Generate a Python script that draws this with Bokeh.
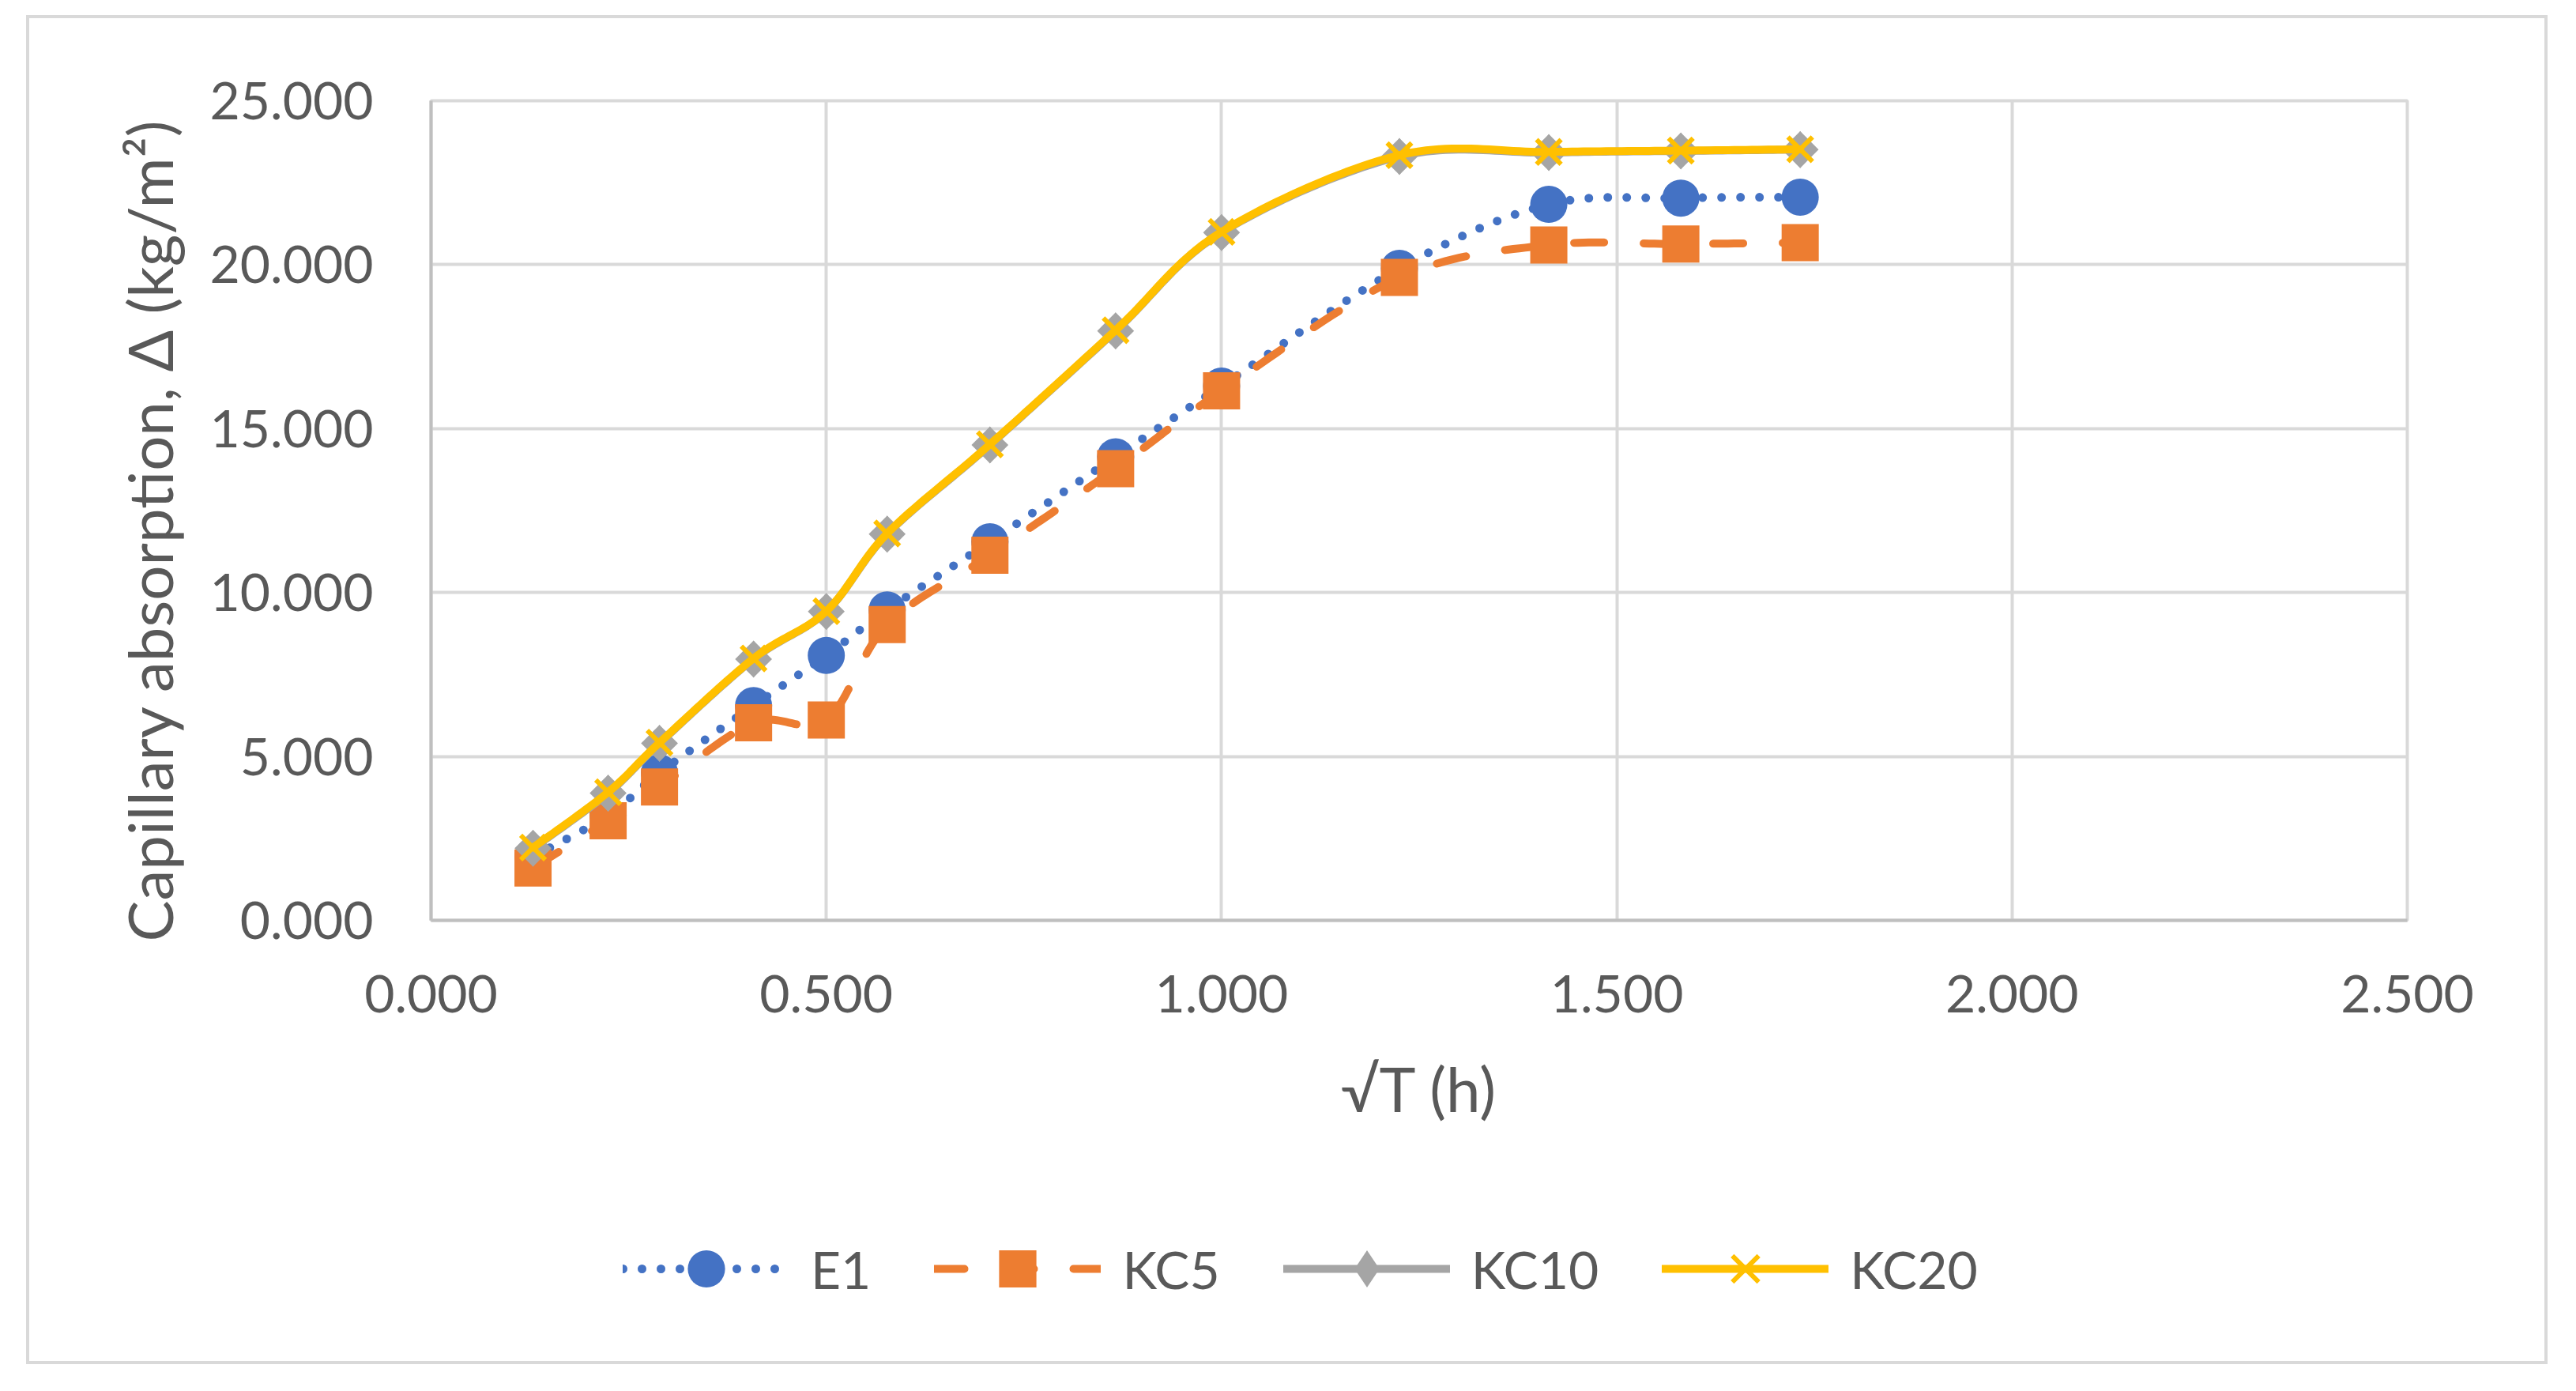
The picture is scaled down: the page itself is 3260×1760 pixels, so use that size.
import numpy as np
from bokeh.plotting import figure
from bokeh.layouts import column
from bokeh.models import (Range1d, FixedTicker, NumeralTickFormatter, Legend, LegendItem,
                          ColumnDataSource, Title)
from bokeh.embed import file_html
from bokeh.resources import INLINE

# ---------------- data ----------------
sqrt_t = [0.129, 0.224, 0.289, 0.408, 0.500, 0.577, 0.707, 0.866, 1.000, 1.225, 1.414, 1.581, 1.732]
e1 = [1.95, 3.20, 4.50, 6.55, 8.08, 9.47, 11.55, 14.14, 16.30, 19.89, 21.84, 22.03, 22.06]
kc5 = [1.60, 3.04, 4.07, 6.03, 6.11, 9.02, 11.14, 13.78, 16.15, 19.61, 20.60, 20.63, 20.67]
kc10 = [2.20, 3.88, 5.40, 7.97, 9.42, 11.78, 14.50, 17.98, 20.98, 23.30, 23.42, 23.47, 23.51]
kc20 = [2.22, 3.91, 5.42, 7.99, 9.43, 11.80, 14.52, 18.00, 21.00, 23.34, 23.44, 23.48, 23.52]
series_names = ["E1", "KC5", "KC10", "KC20"]
x_ticks = [0.0, 0.5, 1.0, 1.5, 2.0, 2.5]
y_ticks = [0, 5, 10, 15, 20, 25]
x_title = "√T (h)"
y_title = "Capillary absorption, Δ (kg/m²)"

FONT = "Lato"
TXT = "#595959"
C_E1, C_KC5, C_KC10, C_KC20 = "#4472C4", "#ED7D31", "#A5A5A5", "#FFC000"

STYLE = {
    "E1": dict(color=C_E1, width=11, dash="0 24", marker="circle", size=47),
    "KC5": dict(color=C_KC5, width=10, dash="38 50", marker="square", size=47),
    "KC10": dict(color=C_KC10, width=10, dash="solid", marker="diamond", size=47),
    "KC20": dict(color=C_KC20, width=10, dash="solid", marker="x", size=44),
}


def smooth(xs, ys, n=24):
    """Excel-like smoothed line: cubic Bezier with Catmull-Rom control points."""
    pts = np.column_stack([xs, ys]).astype(float)
    m = len(pts)
    outx, outy = [], []
    for i in range(m - 1):
        p0 = pts[i - 1] if i > 0 else pts[i]
        p1 = pts[i]
        p2 = pts[i + 1]
        p3 = pts[i + 2] if i + 2 < m else pts[i + 1]
        c1 = p1 + (p2 - p0) / 6.0
        c2 = p2 - (p3 - p1) / 6.0
        ts = np.linspace(0, 1, n, endpoint=(i == m - 2))
        for t in ts:
            b = ((1 - t) ** 3) * p1 + 3 * ((1 - t) ** 2) * t * c1 + 3 * (1 - t) * t * t * c2 + t ** 3 * p2
            outx.append(b[0])
            outy.append(b[1])
    return outx, outy


def add_series(fig, src, col, name, legend_only=False):
    st = STYLE[name]
    sx, sy = smooth(src.data["x"], src.data[col])
    ln = fig.line(sx, sy, line_color=st["color"], line_width=st["width"], line_dash=st["dash"],
                  line_cap="round", line_join="round")
    if st["marker"] == "x":
        mk = fig.scatter("x", col, source=src, marker="x", size=st["size"],
                         line_color=st["color"], line_width=6)
    else:
        mk = fig.scatter("x", col, source=src, marker=st["marker"], size=st["size"],
                         fill_color=st["color"], line_color=None)
    if name == "KC10" and not legend_only:
        # Excel's diamond is a square turned by 45 degrees
        fig.scatter("x", col, source=src, marker="square", size=33, angle=np.pi / 4,
                    fill_color=st["color"], line_color=None)
    return ln, mk


# ---------------- main chart ----------------
p = figure(frame_width=2501, frame_height=1037,
           min_border_left=545, min_border_right=211, min_border_top=141, min_border_bottom=330,
           x_range=Range1d(0, 2.5), y_range=Range1d(0, 25),
           output_backend="svg", toolbar_location=None, tools="")
p.background_fill_color = "white"
p.border_fill_color = None
p.border_fill_alpha = 0
p.outline_line_color = "#D9D9D9"
p.outline_line_width = 4

p.xgrid.ticker = FixedTicker(ticks=x_ticks)
p.ygrid.ticker = FixedTicker(ticks=y_ticks)
for g in (p.xgrid, p.ygrid):
    g.grid_line_color = "#D9D9D9"
    g.grid_line_width = 4

p.xaxis.ticker = FixedTicker(ticks=x_ticks)
p.yaxis.ticker = FixedTicker(ticks=y_ticks)
p.xaxis.formatter = NumeralTickFormatter(format="0.000")
p.yaxis.formatter = NumeralTickFormatter(format="0.000")
for ax in (p.xaxis, p.yaxis):
    ax.major_tick_line_color = None
    ax.minor_tick_line_color = None
    ax.major_label_text_font = FONT
    ax.major_label_text_font_size = "66px"
    ax.major_label_text_color = TXT
    ax.axis_label_text_font = FONT
    ax.axis_label_text_font_size = "78px"
    ax.axis_label_text_color = TXT
    ax.axis_label_text_font_style = "normal"
    ax.axis_line_color = "#BFBFBF"
    ax.axis_line_width = 4
p.xaxis.major_label_standoff = 63
p.yaxis.major_label_standoff = 67
p.xaxis.axis_label = x_title
p.xaxis.axis_label_standoff = 46

ytitle = Title(text=y_title, align="left", offset=-27, standoff=54,
               text_font=FONT, text_font_size="78px", text_color=TXT, text_font_style="normal")
p.add_layout(ytitle, "left")

src = ColumnDataSource(dict(x=sqrt_t, e1=e1, kc5=kc5, kc10=kc10, kc20=kc20))
cols = ["e1", "kc5", "kc10", "kc20"]
for c, n in zip(cols, series_names):
    add_series(p, src, c, n)

# ---------------- legend strip (same series styles, legend only) ----------------
q = figure(width=3257, height=265, min_border=0, x_range=Range1d(-10, -9), y_range=Range1d(-10, -9),
           x_axis_location=None, y_axis_location=None,
           output_backend="svg", toolbar_location=None, tools="")
q.grid.visible = False
q.outline_line_color = None
q.background_fill_color = None
q.background_fill_alpha = 0
q.border_fill_color = None
q.border_fill_alpha = 0

items = []
for c, n in zip(cols, series_names):
    ln, mk = add_series(q, src, c, n, legend_only=True)
    items.append(LegendItem(label=n, renderers=[ln, mk]))

# the strip's frame is aligned with the chart's frame, so x is counted from the plot area's left edge
legend = Legend(items=items, orientation="horizontal", location=(243, 95))
legend.glyph_width = 211
legend.glyph_height = 118
legend.label_standoff = 27
legend.spacing = 80
legend.padding = 0
legend.margin = 0
legend.border_line_color = None
legend.background_fill_alpha = 0
legend.label_text_font = FONT
legend.label_text_font_size = "66px"
legend.label_text_color = TXT
legend.label_height = 118
q.add_layout(legend, "center")

layout = column(p, q, spacing=0)
layout.styles = {"outline": "4px solid #D9D9D9", "outline-offset": "-37px", "margin-top": "-14px",
                 "background": "white"}

open("out.html", "w").write(file_html(layout, INLINE))
